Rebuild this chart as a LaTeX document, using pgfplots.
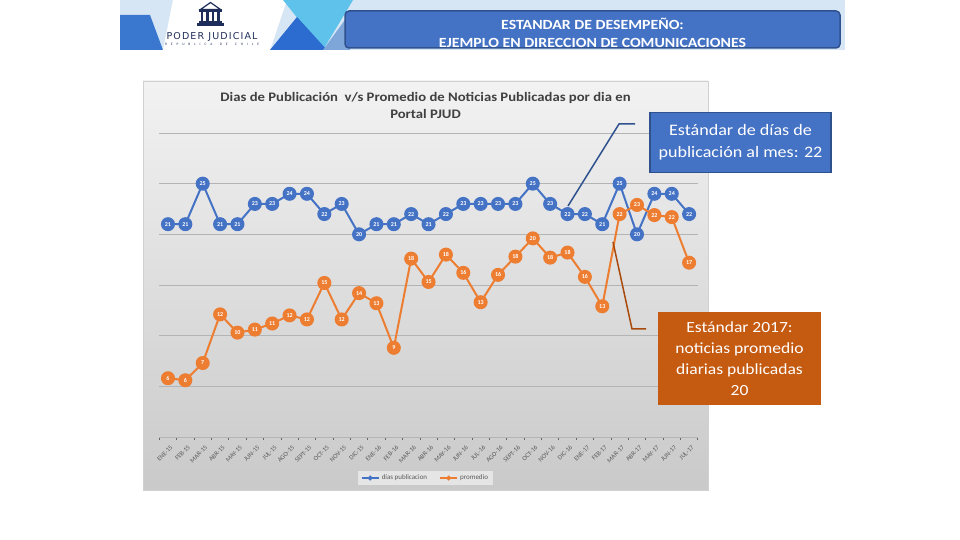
\documentclass[border=0pt]{standalone}
\usepackage{pgfplots}
\pgfplotsset{compat=1.18}
\usepackage{fontspec}
\setmainfont{Carlito}
\newfontfamily\wide[FakeStretch=1.13]{Carlito}
\newfontfamily\logofont[LetterSpace=12]{DejaVu Sans}
\definecolor{pblue}{HTML}{4472C4}
\definecolor{porange}{HTML}{ED7D31}
\definecolor{bborder}{HTML}{2F528F}
\definecolor{obox}{HTML}{C55A11}
\definecolor{oline}{HTML}{A94A0C}
\definecolor{navy}{HTML}{1F2D5A}
\definecolor{hatch}{HTML}{D6E6F5}
\definecolor{hblue}{HTML}{3A78D0}
\definecolor{hdark}{HTML}{2C6BCF}
\definecolor{hcyan}{HTML}{5EC2EA}
\definecolor{hsteel}{HTML}{7EA6D8}
\definecolor{txtgray}{HTML}{595959}
\definecolor{titlegray}{HTML}{404040}
\definecolor{gridgray}{HTML}{B4B4B4}
\begin{document}
\begin{tikzpicture}[x=1pt,y=1pt]
\fill[white] (0,0) rectangle (960,540);
% header decoration
\fill[hatch] (120,490) rectangle (845,540);
\fill[hblue] (120,525) -- (150,525) -- (163,490) -- (120,490) -- cycle;
\fill[white] (173,540) -- (287,540) -- (270,490) -- (163,490) -- cycle;
\fill[hcyan] (283,540) -- (353,540) -- (323,490) -- cycle;
\fill[hdark] (270,490) -- (297,523) -- (327,490) -- cycle;
\fill[hsteel] (323,490) -- (350,527) -- (350,490) -- cycle;
% logo
\draw[navy, line width=1.2] (200.5,530.5) -- (210.5,537.5) -- (220.5,530.5) -- cycle;
\fill[navy] (199,528) rectangle (222,530.5);
\foreach \cx in {202,207.5,213,218.5} {\fill[navy] (\cx-1.1,518.5) rectangle (\cx+1.1,528);}
\fill[navy] (199,517) rectangle (222,518.5);
\fill[navy] (197,514) rectangle (224,516.5);
\node[navy, inner sep=0pt, font=\logofont\fontsize{9.5}{10}\selectfont] at (212,503.5) {PODER JUDICIAL};
\node[navy, inner sep=0pt, font=\fontsize{3.5}{4}\selectfont] at (212,495.5) {\makebox[94pt][s]{R E P U B L I C A \quad D E \quad C H I L E}};
% title box
\draw[bborder, fill=pblue, line width=1.5, rounded corners=4] (345,492) rectangle (840,529);
\node[white, align=center, inner sep=0pt, font=\wide\fontsize{14}{18.5}\selectfont\bfseries] at (592.5,507) {ESTANDAR DE DESEMPEÑO:\\EJEMPLO EN DIRECCION DE COMUNICACIONES};
% chart background
\shade[top color=white!95!black, bottom color=black!21] (143,50) rectangle (708,459);
\draw[black!18] (143,50) rectangle (708,459);
\node[titlegray, align=center, inner sep=0pt, font=\wide\fontsize{13}{17}\selectfont\bfseries] at (425.5,434.5) {Dias de Publicación\ \ v/s Promedio de Noticias Publicadas por dia en\\Portal PJUD};
\begin{axis}[
  at={(159.3pt,103pt)}, anchor=south west, scale only axis,
  width=538.5pt, height=304pt,
  xmin=-0.5, xmax=30.5, ymin=0, ymax=30,
  axis line style={draw=none},
  ytick={5,10,...,30}, yticklabels={}, ymajorgrids,
  major grid style={gridgray, line width=0.9pt},
  extra y ticks={0}, extra y tick labels={},
  extra y tick style={grid style={black!60, line width=1pt}, major tick length=0pt},
  ytick style={draw=none}, major y tick style={draw=none},
  xtick={0,...,30},
  xticklabels={ENE-15,FEB-15,MAR-15,ABR-15,MAY-15,JUN-15,JUL-15,AGO-15,SEPT-15,OCT-15,NOV-15,DIC-15,ENE-16,FEB-16,MAR-16,ABR-16,MAY-16,JUN-16,JUL-16,AGO-16,SEPT-16,OCT-16,NOV-16,DIC-16,ENE-17,FEB-17,MAR-17,ABR-17,MAY-17,JUN-17,JUL-17},
  major x tick style={draw=none},
  minor xtick={-0.5,0.5,...,30.5},
  minor x tick style={black!60, line width=0.7pt},
  minor tick length=3pt, xtick align=outside, xtick pos=bottom,
  xticklabel style={rotate=45, anchor=north east, inner sep=1pt, yshift=-3pt, text=txtgray, font=\fontsize{6.5}{7}\selectfont},
  /pgf/number format/assume math mode=true,
  /pgf/number format/.cd, fixed, precision=0, /pgfplots/.cd,
  nodes near coords,
  every node near coord/.append style={anchor=center, inner sep=0pt, text=white, font=\fontsize{6}{6}\selectfont\bfseries},
  legend style={at={(0.494,-0.135)}, anchor=center, legend columns=2, draw=none, fill=black!10,
    font=\fontsize{7}{8}\selectfont, text=txtgray, inner ysep=2pt,
    /tikz/every even column/.append style={column sep=10pt}},
  legend image post style={mark size=1.3pt},
]
\addplot[pblue, line width=2pt, mark=*, mark size=6pt, mark options={fill=pblue, draw=pblue}] coordinates {
(0,21)(1,21)(2,25)(3,21)(4,21)(5,23)(6,23)(7,24)(8,24)(9,22)(10,23)(11,20)(12,21)(13,21)(14,22)(15,21)
(16,22)(17,23)(18,23)(19,23)(20,23)(21,25)(22,23)(23,22)(24,22)(25,21)(26,25)(27,20)(28,24)(29,24)(30,22)};
\addlegendentry{días publicacion}
\addplot[porange, line width=2pt, mark=*, mark size=6pt, mark options={fill=porange, draw=porange}] coordinates {
(0,5.8)(1,5.6)(2,7.3)(3,12.1)(4,10.3)(5,10.6)(6,11.2)(7,12.0)(8,11.6)(9,15.2)(10,11.6)(11,14.2)(12,13.2)(13,8.8)(14,17.6)(15,15.3)
(16,18.0)(17,16.2)(18,13.3)(19,16.0)(20,17.8)(21,19.6)(22,17.7)(23,18.2)(24,15.8)(25,12.9)(26,22.0)(27,22.9)(28,21.9)(29,21.7)(30,17.2)};
\addlegendentry{promedio}
\end{axis}
% callouts
\draw[bborder, line width=1.5] (635,416) -- (619,416) -- (568,334);
\draw[oline, line width=1.5] (646,211) -- (632,211) -- (613,298);
\draw[bborder, fill=pblue, line width=1.2] (650,367.3) rectangle (831,427.3);
\node[white, align=center, inner sep=0pt, font=\wide\fontsize{16}{22}\selectfont] at (740.5,397.3) {Estándar de días de\\publicación al mes: 22};
\fill[obox] (658,135) rectangle (821,228);
\node[white, align=center, inner sep=0pt, font=\wide\fontsize{15.5}{20.8}\selectfont] at (739.5,181.5) {Estándar 2017:\\noticias promedio\\diarias publicadas\\20};
\end{tikzpicture}
\end{document}
